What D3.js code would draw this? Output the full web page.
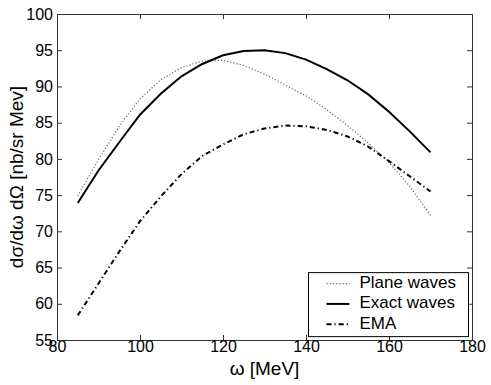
<!DOCTYPE html>
<html>
<head>
<meta charset="utf-8">
<script src="https://cdn.jsdelivr.net/npm/d3@7"></script>
<style>
  body { margin: 0; background: #fff; }
  text { font-family: "Liberation Sans", Arial, sans-serif; }
</style>
</head>
<body>
<script>
const width = 491;
const height = 385;

const margin = { top: 14, left: 57, bottom: 45, right: 19 };

// omega values (MeV) and cross sections
const omega = [85, 90, 95, 100, 105, 110, 115, 120, 125, 130, 135, 140, 145, 150, 155, 160, 165, 170];
const planeWaves = [74.9, 79.9, 84.5, 88.3, 90.9, 92.6, 93.5, 93.6, 92.9, 91.7, 90.2, 88.7, 86.8, 84.6, 82.2, 79.5, 76.2, 72.2];
const exactWaves = [73.9, 78.4, 82.3, 86.1, 89.0, 91.4, 93.1, 94.3, 94.9, 95.0, 94.6, 93.7, 92.4, 90.85, 88.9, 86.5, 83.8, 80.9];
const ema = [58.4, 62.8, 67.2, 71.4, 74.8, 77.9, 80.4, 82.0, 83.4, 84.2, 84.6, 84.5, 84.0, 83.1, 81.7, 79.7, 77.6, 75.5];

const xTicks = [80, 100, 120, 140, 160, 180];
const yTicks = [55, 60, 65, 70, 75, 80, 85, 90, 95, 100];

const seriesNames = ["Plane waves", "Exact waves", "EMA"];

const mWidth = width - margin.left - margin.right;
const mHeight = height - margin.top - margin.bottom;

const svg = d3.select("body").append("svg")
  .attr("width", width)
  .attr("height", height);

const g = svg.append("g")
  .attr("transform", `translate(${margin.left},${margin.top})`);

const x = d3.scaleLinear().domain([80, 180]).range([0, mWidth]);
const y = d3.scaleLinear().domain([55, 100]).range([mHeight, 0]);

// ticks pointing inwards on all four sides
const axes = [
  { ax: d3.axisBottom(x).tickValues(xTicks).tickSize(-5), t: `translate(0,${mHeight})`, labels: "x" },
  { ax: d3.axisTop(x).tickValues(xTicks).tickSize(-5), t: "translate(0,0)", labels: null },
  { ax: d3.axisLeft(y).tickValues(yTicks).tickSize(-5), t: "translate(0,0)", labels: "y" },
  { ax: d3.axisRight(y).tickValues(yTicks).tickSize(-5), t: `translate(${mWidth},0)`, labels: null }
];

axes.forEach((a) => {
  const sel = g.append("g")
    .attr("transform", a.t)
    .call(a.ax.tickPadding(4));
  sel.select(".domain").attr("stroke", "#333");
  sel.selectAll(".tick line").attr("stroke", "#333");
  const txt = sel.selectAll(".tick text")
    .attr("fill", "#000")
    .style("font-size", "16px");
  if (!a.labels) txt.remove();
  if (a.labels === "x") txt.attr("dy", null).attr("y", 12);
});

const styles = [
  { stroke: "#666", width: 1.2, dash: "1.2,2" },
  { stroke: "#000", width: 2, dash: null },
  { stroke: "#000", width: 2, dash: "5,3,1.2,3" }
];

const line = d3.line()
  .x((d) => x(d[0]))
  .y((d) => y(d[1]));

[planeWaves, exactWaves, ema].forEach((vals, i) => {
  g.append("path")
    .datum(omega.map((o, j) => [o, vals[j]]))
    .attr("fill", "none")
    .attr("stroke", styles[i].stroke)
    .attr("stroke-width", styles[i].width)
    .attr("stroke-dasharray", styles[i].dash)
    .attr("d", line);
});

// legend, lower right corner
const legend = g.append("g")
  .attr("transform", `translate(${x(140.6)},${y(64.3)})`);

legend.append("rect")
  .attr("width", 160)
  .attr("height", 64)
  .attr("fill", "#fff")
  .attr("stroke", "#000")
  .attr("stroke-width", 1);

seriesNames.forEach((name, i) => {
  const base = 15.5 + i * 20.3;
  legend.append("line")
    .attr("x1", 18).attr("x2", 41)
    .attr("y1", base - 4.5).attr("y2", base - 4.5)
    .attr("stroke", styles[i].stroke)
    .attr("stroke-width", styles[i].width)
    .attr("stroke-dasharray", styles[i].dash);
  legend.append("text")
    .attr("x", 51)
    .attr("y", base)
    .style("font-size", "17px")
    .text(name);
});

// axis titles
svg.append("text")
  .attr("x", margin.left + mWidth / 2)
  .attr("y", 375)
  .attr("text-anchor", "middle")
  .style("font-size", "19px")
  .text("ω [MeV]");

svg.append("text")
  .attr("transform", `translate(23,${margin.top + mHeight / 2}) rotate(-90)`)
  .attr("text-anchor", "middle")
  .style("font-size", "19px")
  .text("dσ/dω dΩ [nb/sr Mev]");
</script>
</body>
</html>
